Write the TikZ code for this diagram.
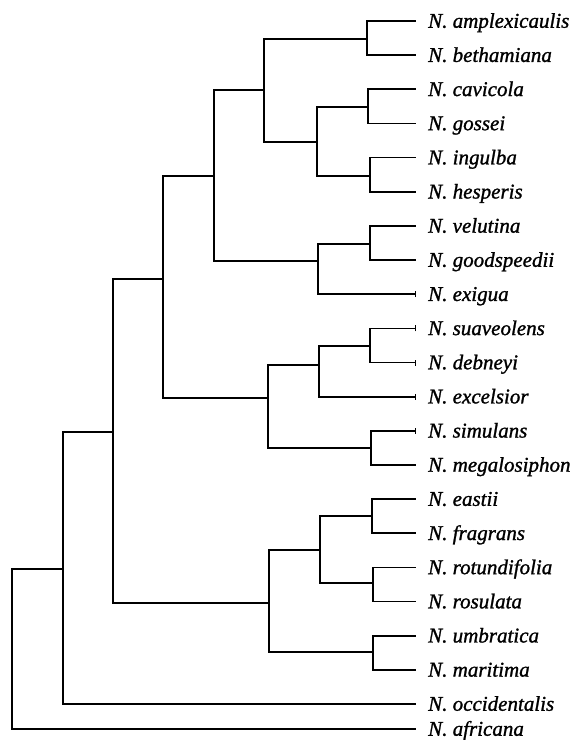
\documentclass[tikz,border=0pt]{standalone}
\usepackage{fontspec}
\setmainfont{Liberation Serif}[ItalicFeatures={FakeBold=1.2}]
\begin{document}
\begin{tikzpicture}[x=1pt,y=-1pt,
  branch/.style={line width=1.7pt, line cap=rect, line join=miter},
  leaf/.style={anchor=west, inner xsep=13pt, inner ysep=0pt, text height=13.5pt, text depth=0pt,
    font=\fontsize{21}{24}\selectfont\itshape},
  endtick/.style={line width=1pt}]
\useasboundingbox (0,0) rectangle (572,740);
% leaves
\foreach \n/\t [count=\i from 0] in {
  l1/amplexicaulis, l2/bethamiana, l3/cavicola, l4/gossei, l5/ingulba, l6/hesperis,
  l7/velutina, l8/goodspeedii, l9/exigua, l10/suaveolens, l11/debneyi, l12/excelsior,
  l13/simulans, l14/megalosiphon, l15/eastii, l16/fragrans, l17/rotundifolia, l18/rosulata,
  l19/umbratica, l20/maritima, l21/occidentalis}
  \node[leaf] (\n) at (415, 21+34.15*\i) {N. \t};
\node[leaf] (l22) at (415, 729) {N. africana};
% internal nodes (x of vertical, y of joint)
\coordinate (A) at (367,39);
\coordinate (B) at (368,107);
\coordinate (C) at (370,176);
\coordinate (D) at (317,142);
\coordinate (E) at (264,90);
\coordinate (F) at (370,244);
\coordinate (G) at (318,261);
\coordinate (H) at (214,176);
\coordinate (I) at (370,346);
\coordinate (J) at (319,365);
\coordinate (K) at (371,448);
\coordinate (L) at (268,398);
\coordinate (M) at (163,279);
\coordinate (N1) at (372,516);
\coordinate (N2) at (373,583);
\coordinate (O) at (320,550);
\coordinate (P) at (373,652);
\coordinate (Q) at (269,603);
\coordinate (R) at (113,432);
\coordinate (S) at (63,569);
\coordinate (T) at (12,650);
% connectors
\draw[branch] (A) |- (l1.west);  \draw[branch] (A) |- (l2.west);
\draw[branch] (B) |- (l3.west);  \draw[branch] (B) |- (l4.west);
\draw[branch] (C) |- (l5.west);  \draw[branch] (C) |- (l6.west);
\draw[branch] (D) |- (B);        \draw[branch] (D) |- (C);
\draw[branch] (E) |- (A);        \draw[branch] (E) |- (D);
\draw[branch] (F) |- (l7.west);  \draw[branch] (F) |- (l8.west);
\draw[branch] (G) |- (F);        \draw[branch] (G) |- (l9.west);
\draw[branch] (H) |- (E);        \draw[branch] (H) |- (G);
\draw[branch] (I) |- (l10.west); \draw[branch] (I) |- (l11.west);
\draw[branch] (J) |- (I);        \draw[branch] (J) |- (l12.west);
\draw[branch] (K) |- (l13.west); \draw[branch] (K) |- (l14.west);
\draw[branch] (L) |- (J);        \draw[branch] (L) |- (K);
\draw[branch] (M) |- (H);        \draw[branch] (M) |- (L);
\draw[branch] (N1) |- (l15.west); \draw[branch] (N1) |- (l16.west);
\draw[branch] (N2) |- (l17.west); \draw[branch] (N2) |- (l18.west);
\draw[branch] (O) |- (N1);       \draw[branch] (O) |- (N2);
\draw[branch] (P) |- (l19.west); \draw[branch] (P) |- (l20.west);
\draw[branch] (Q) |- (O);        \draw[branch] (Q) |- (P);
\draw[branch] (R) |- (M);        \draw[branch] (R) |- (Q);
\draw[branch] (S) |- (R);        \draw[branch] (S) |- (l21.west);
\draw[branch] (T) |- (S);        \draw[branch] (T) |- (l22.west);
% small end ticks
\foreach \n in {l9,l10,l11,l12,l13}
  \draw[endtick] ([yshift=-3pt]\n.west) -- ([yshift=3pt]\n.west);
\end{tikzpicture}
\end{document}
